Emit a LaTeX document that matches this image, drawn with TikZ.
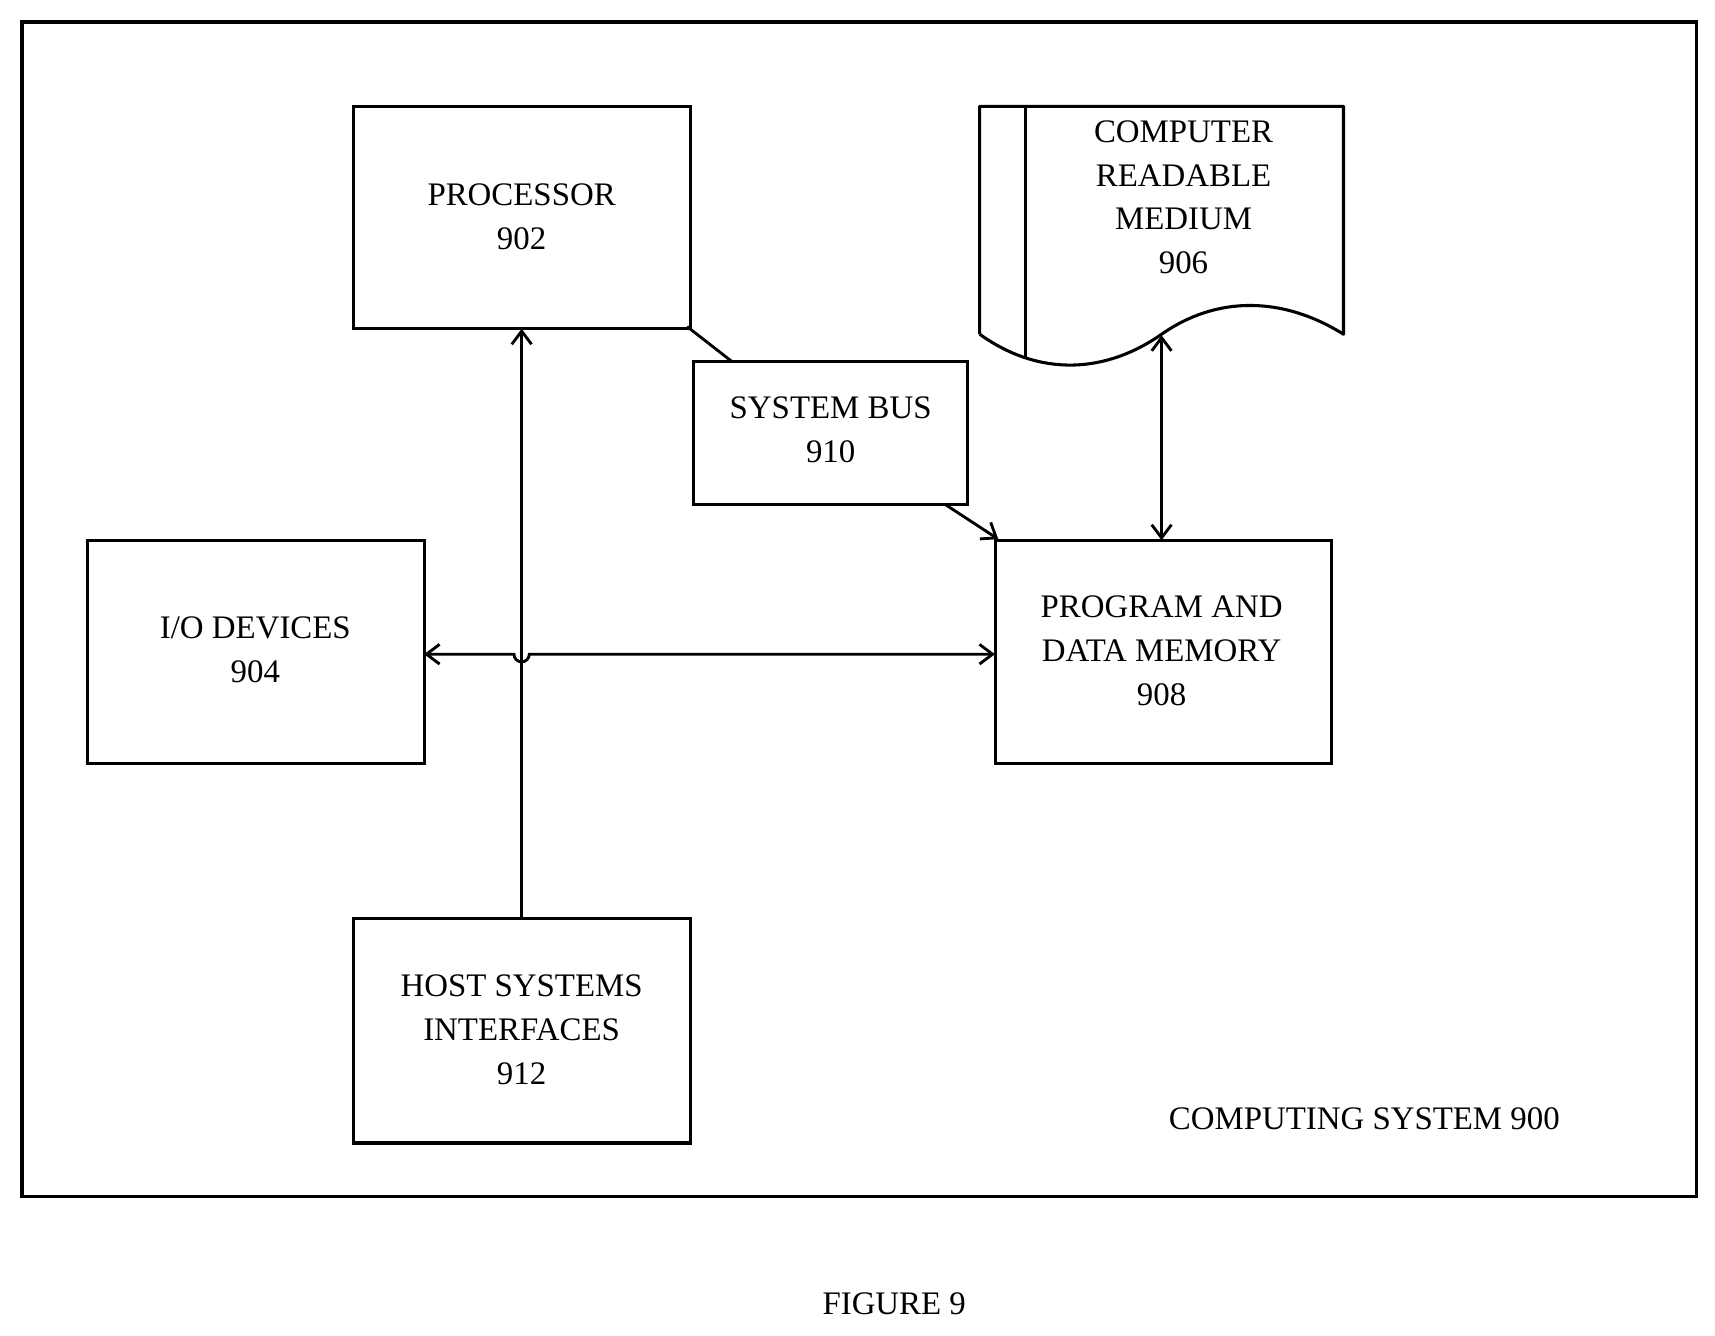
\documentclass[tikz,border=0pt]{standalone}
\usepackage{fontspec}
\setmainfont{Liberation Serif}
\usetikzlibrary{arrows.meta}
\begin{document}
\begin{tikzpicture}[x=0.5pt,y=-0.5pt,
  box/.style={draw,line width=1.4pt},
  lbl/.style={align=center,font=\fontsize{15}{20}\selectfont},
  ln/.style={line width=1.3pt},
  arr/.style={ln,-{Straight Barb[length=6pt,width=9pt]}},
  darr/.style={ln,{Straight Barb[length=6pt,width=9pt]}-{Straight Barb[length=6pt,width=9pt]}}]
\useasboundingbox (0,0) rectangle (1565,1219);
\draw[line width=1.5pt] (20,20) rectangle (1548,1092);
\draw[box] (323,97) rectangle (630,300);
\node[lbl] (proc) at (476,198) {PROCESSOR\\902};
\coordinate (procB) at (476,300);
\draw[box] (633,330) rectangle (883,460);
\node[lbl] (bus) at (758,392) {SYSTEM BUS\\910};
\draw[box] (908,493) rectangle (1215,697);
\node[lbl] (mem) at (1060,594) {PROGRAM AND\\DATA MEMORY\\908};
\draw[box] (80,493) rectangle (387,697);
\node[lbl] (io) at (233,593) {I/O DEVICES\\904};
\draw[box] (323,838) rectangle (630,1043);
\node[lbl] (host) at (476,940) {HOST SYSTEMS\\INTERFACES\\912};
% document shape
\draw[box,line join=round] (894,305) -- (894,97) -- (1226,97) -- (1226,305)
  .. controls (1170,270) and (1110,270) .. (1060,305)
  .. controls (1010,340) and (950,345) .. (894,305);
\draw[ln] (936,97) -- (936,326);
\node[lbl] (crm) at (1080,180) {COMPUTER\\READABLE\\MEDIUM\\906};
\coordinate (crmB) at (1060,306);
% connectors
\coordinate (p1) at (627,298); \coordinate (b1) at (668,330);
\draw[ln] (p1) -- (b1);
\coordinate (b2) at (862,460); \coordinate (m1) at (911,492);
\draw[arr] (b2) -- (m1);
\coordinate (hostT) at (476,838);
\draw[arr] (hostT) -- (procB);
\coordinate (ioR) at (387,597); \coordinate (memL) at (908,597);
\draw[darr] (ioR) -- (469,597) arc[start angle=180,end angle=0,radius=7] -- (memL);
\coordinate (memT) at (1060,493);
\draw[darr] (memT) -- (crmB);
\node[font=\fontsize{15}{20}\selectfont] (cs) at (1245,1021) {COMPUTING SYSTEM 900};
\node[font=\fontsize{15}{20}\selectfont] (fig) at (816,1190) {FIGURE 9};
\end{tikzpicture}
\end{document}
